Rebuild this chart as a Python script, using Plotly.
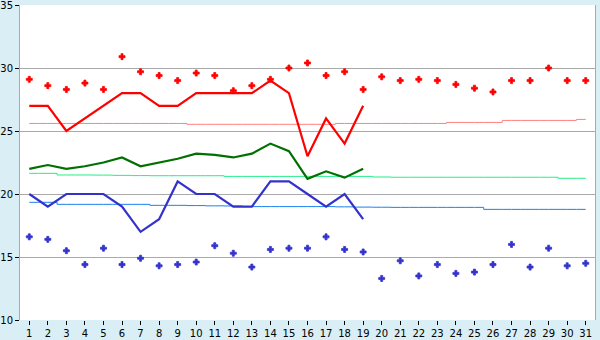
import plotly.graph_objects as go

days = list(range(1, 32))
day_labels = [str(d) for d in days]

# thick daily lines (days 1-19)
line_days = list(range(1, 20))
max_line = [27, 27, 25, 26, 27, 28, 28, 27, 27, 28, 28, 28, 28, 29, 28, 23, 26, 24, 27]
mean_line = [22.0, 22.3, 22.0, 22.2, 22.5, 22.9, 22.2, 22.5, 22.8, 23.2, 23.1, 22.9, 23.2, 24.0, 23.4, 21.2, 21.8, 21.3, 22.0]
min_line = [20, 19, 20, 20, 20, 19, 17, 18, 21, 20, 20, 19, 19, 21, 21, 20, 19, 20, 18]

# marker series (all days)
max_pts = [29.1, 28.6, 28.3, 28.8, 28.3, 30.9, 29.7, 29.4, 29.0, 29.6,
           29.4, 28.2, 28.6, 29.1, 30.0, 30.4, 29.4, 29.7, 28.3, 29.3,
           29.0, 29.1, 29.0, 28.7, 28.4, 28.1, 29.0, 29.0, 30.0, 29.0, 29.0]
min_pts = [16.6, 16.4, 15.5, 14.4, 15.7, 14.4, 14.9, 14.3, 14.4, 14.6,
           15.9, 15.3, 14.2, 15.6, 15.7, 15.7, 16.6, 15.6, 15.4, 13.3,
           14.7, 13.5, 14.4, 13.7, 13.8, 14.4, 16.0, 14.2, 15.7, 14.3, 14.5]

# normals (thin lines)
norm_max = [25.6, 25.6, 25.6, 25.6, 25.6, 25.6, 25.6, 25.6, 25.6, 25.53,
            25.53, 25.53, 25.53, 25.53, 25.53, 25.53, 25.53, 25.6, 25.6, 25.6,
            25.6, 25.6, 25.6, 25.68, 25.68, 25.68, 25.84, 25.84, 25.84, 25.84, 25.92]
norm_mean = [21.64, 21.64, 21.51, 21.51, 21.5, 21.48, 21.46, 21.45, 21.45, 21.45,
             21.45, 21.4, 21.4, 21.4, 21.4, 21.4, 21.4, 21.4, 21.4, 21.35,
             21.33, 21.33, 21.33, 21.33, 21.33, 21.33, 21.33, 21.33, 21.33, 21.25, 21.25]
norm_min = [19.34, 19.34, 19.18, 19.18, 19.18, 19.18, 19.18, 19.1, 19.1, 19.08,
            19.06, 19.05, 19.0, 19.0, 19.0, 19.0, 19.0, 18.98, 18.96, 18.95,
            18.94, 18.94, 18.94, 18.94, 18.94, 18.78, 18.78, 18.78, 18.78, 18.78, 18.78]

fig = go.Figure()

fig.add_trace(go.Scatter(x=days, y=norm_max, mode="lines", line=dict(color="#ff8080", width=1, shape="hvh")))
fig.add_trace(go.Scatter(x=days, y=norm_mean, mode="lines", line=dict(color="#22ee88", width=1, shape="hvh")))
fig.add_trace(go.Scatter(x=days, y=norm_min, mode="lines", line=dict(color="#1a80f0", width=1, shape="hvh")))

fig.add_trace(go.Scatter(x=line_days, y=max_line, mode="lines", line=dict(color="#ff0000", width=2.2)))
fig.add_trace(go.Scatter(x=line_days, y=mean_line, mode="lines", line=dict(color="#007000", width=2.2)))
fig.add_trace(go.Scatter(x=line_days, y=min_line, mode="lines", line=dict(color="#3333cc", width=2.2)))

fig.add_trace(go.Scatter(x=days, y=max_pts, mode="markers",
                         marker=dict(symbol="cross", size=5, color="#ff0000",
                                     line=dict(width=0.8, color="#ff0000"))))
fig.add_trace(go.Scatter(x=days, y=min_pts, mode="markers",
                         marker=dict(symbol="cross", size=5, color="#3333cc",
                                     line=dict(width=0.8, color="#3333cc"))))

fig.update_layout(
    width=600, height=340,
    margin=dict(l=20, r=5, t=5, b=20),
    paper_bgcolor="#d9eef5",
    plot_bgcolor="#ffffff",
    showlegend=False,
    hovermode=False,
    font=dict(family="DejaVu Sans", size=10, color="#000000"),
)
fig.update_xaxes(
    range=[0.5, 31.5], tickmode="array", tickvals=days, ticktext=day_labels,
    showgrid=False, zeroline=False, ticks="outside", ticklen=4, tickcolor="#000000",
    showline=False, tickangle=0, automargin=False,
)
fig.update_yaxes(
    range=[10, 35], tickmode="array", tickvals=[10, 15, 20, 25, 30, 35],
    showgrid=True, gridcolor="#aaaaaa", gridwidth=1, zeroline=False,
    ticks="outside", ticklen=4, tickcolor="#000000",
    showline=True, linecolor="#aaaaaa", linewidth=1, mirror=True,
    ticklabeloverflow="allow", automargin=False,
)

fig.write_html("out.html")
